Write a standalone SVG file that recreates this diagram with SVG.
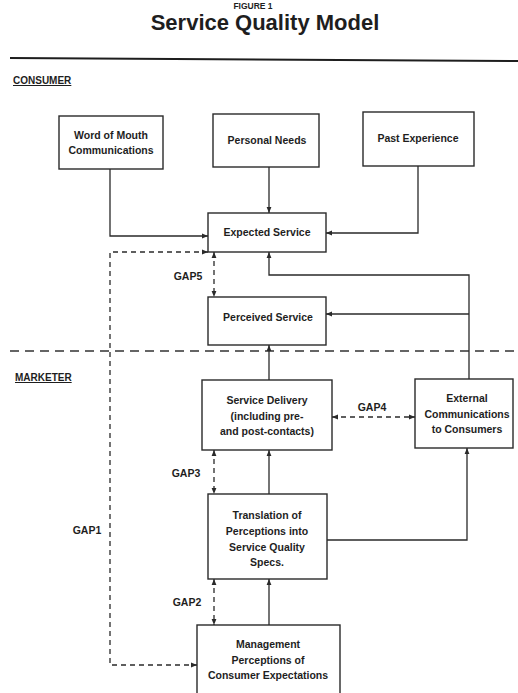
<svg xmlns="http://www.w3.org/2000/svg" width="518" height="693" viewBox="0 0 518 693">
<style>
text{font-family:"Liberation Sans",Arial,sans-serif;fill:#1e1e1e;font-weight:bold}
.n{font-size:10.5px;text-anchor:middle}
.box{fill:#fff;stroke:#2a2a2a;stroke-width:1.4}
.c{fill:none;stroke:#2a2a2a;stroke-width:1.3}
.d{fill:none;stroke:#2a2a2a;stroke-width:1.3;stroke-dasharray:5 4}
.lab{font-size:10.5px}
.sec{font-size:10px;text-decoration:underline}
</style>
<defs>
<marker id="ah" viewBox="0 0 10 10" refX="10" refY="5" markerWidth="6" markerHeight="6" markerUnits="userSpaceOnUse" orient="auto-start-reverse">
<path d="M0,1 L10,5 L0,9 z" fill="#2a2a2a"/>
</marker>
</defs>
<rect width="518" height="693" fill="#fff"/>
<text x="253" y="9" style="font-size:8.5px;text-anchor:middle">FIGURE 1</text>
<text x="265" y="30" style="font-size:22px;text-anchor:middle">Service Quality Model</text>
<path d="M10,58 L518,61" stroke="#1e1e1e" stroke-width="2"/>
<text x="13" y="84" class="sec">CONSUMER</text>
<text x="15" y="381" class="sec">MARKETER</text>
<path d="M10,351 H518" stroke="#333" stroke-width="1.4" stroke-dasharray="9 6"/>

<g id="connectors">
<path class="c" d="M110,169 V236 H208" marker-end="url(#ah)"/>
<path class="c" d="M269,167 V213" marker-end="url(#ah)"/>
<path class="c" d="M418,166 V233 H326" marker-end="url(#ah)"/>
<path class="c" d="M469,379 V275 H269 V252" marker-end="url(#ah)"/>
<path class="c" d="M469,314 H326" marker-end="url(#ah)"/>
<path class="c" d="M269,380 V345" marker-end="url(#ah)"/>
<path class="c" d="M269,494 V450" marker-end="url(#ah)"/>
<path class="c" d="M327,540 H467 V448" marker-end="url(#ah)"/>
<path class="c" d="M269,625 V579" marker-end="url(#ah)"/>
<path class="d" d="M208,252 H110 V665 H197" marker-start="url(#ah)" marker-end="url(#ah)"/>
<path class="d" d="M214,252 V297" marker-start="url(#ah)" marker-end="url(#ah)"/>
<path class="d" d="M332,417 H415" marker-start="url(#ah)" marker-end="url(#ah)"/>
<path class="d" d="M214,450 V494" marker-start="url(#ah)" marker-end="url(#ah)"/>
<path class="d" d="M214,579 V625" marker-start="url(#ah)" marker-end="url(#ah)"/>
<text x="188" y="280" class="lab" text-anchor="middle">GAP5</text>
<text x="372" y="411" class="lab" text-anchor="middle">GAP4</text>
<text x="186" y="477" class="lab" text-anchor="middle">GAP3</text>
<text x="187" y="606" class="lab" text-anchor="middle">GAP2</text>
<text x="87" y="534" class="lab" text-anchor="middle">GAP1</text>
</g>

<g id="word-of-mouth">
<rect class="box" x="59" y="116" width="104" height="53"/>
<text class="n" x="111" y="139">Word of Mouth</text>
<text class="n" x="111" y="154">Communications</text>
</g>
<g id="personal-needs">
<rect class="box" x="213" y="114" width="106" height="53"/>
<text class="n" x="267" y="144">Personal Needs</text>
</g>
<g id="past-experience">
<rect class="box" x="363" y="112" width="111" height="54"/>
<text class="n" x="418" y="142">Past Experience</text>
</g>
<g id="expected-service">
<rect class="box" x="208" y="213" width="118" height="39"/>
<text class="n" x="267" y="236">Expected Service</text>
</g>
<g id="perceived-service">
<rect class="box" x="208" y="297" width="118" height="48"/>
<text class="n" x="268" y="321">Perceived Service</text>
</g>
<g id="service-delivery">
<rect class="box" x="202" y="380" width="130" height="70"/>
<text class="n" x="267" y="404">Service Delivery</text>
<text class="n" x="267" y="420">(including pre-</text>
<text class="n" x="267" y="435">and post-contacts)</text>
</g>
<g id="external-communications">
<rect class="box" x="415" y="379" width="98" height="69"/>
<text class="n" x="467" y="402">External</text>
<text class="n" x="467" y="418">Communications</text>
<text class="n" x="467" y="433">to Consumers</text>
</g>
<g id="translation">
<rect class="box" x="208" y="494" width="119" height="85"/>
<text class="n" x="267" y="519">Translation of</text>
<text class="n" x="267" y="535">Perceptions into</text>
<text class="n" x="267" y="551">Service Quality</text>
<text class="n" x="267" y="566">Specs.</text>
</g>
<g id="management-perceptions">
<rect class="box" x="197" y="625" width="143" height="72"/>
<text class="n" x="268" y="648">Management</text>
<text class="n" x="268" y="664">Perceptions of</text>
<text class="n" x="268" y="679">Consumer Expectations</text>
</g>
</svg>
